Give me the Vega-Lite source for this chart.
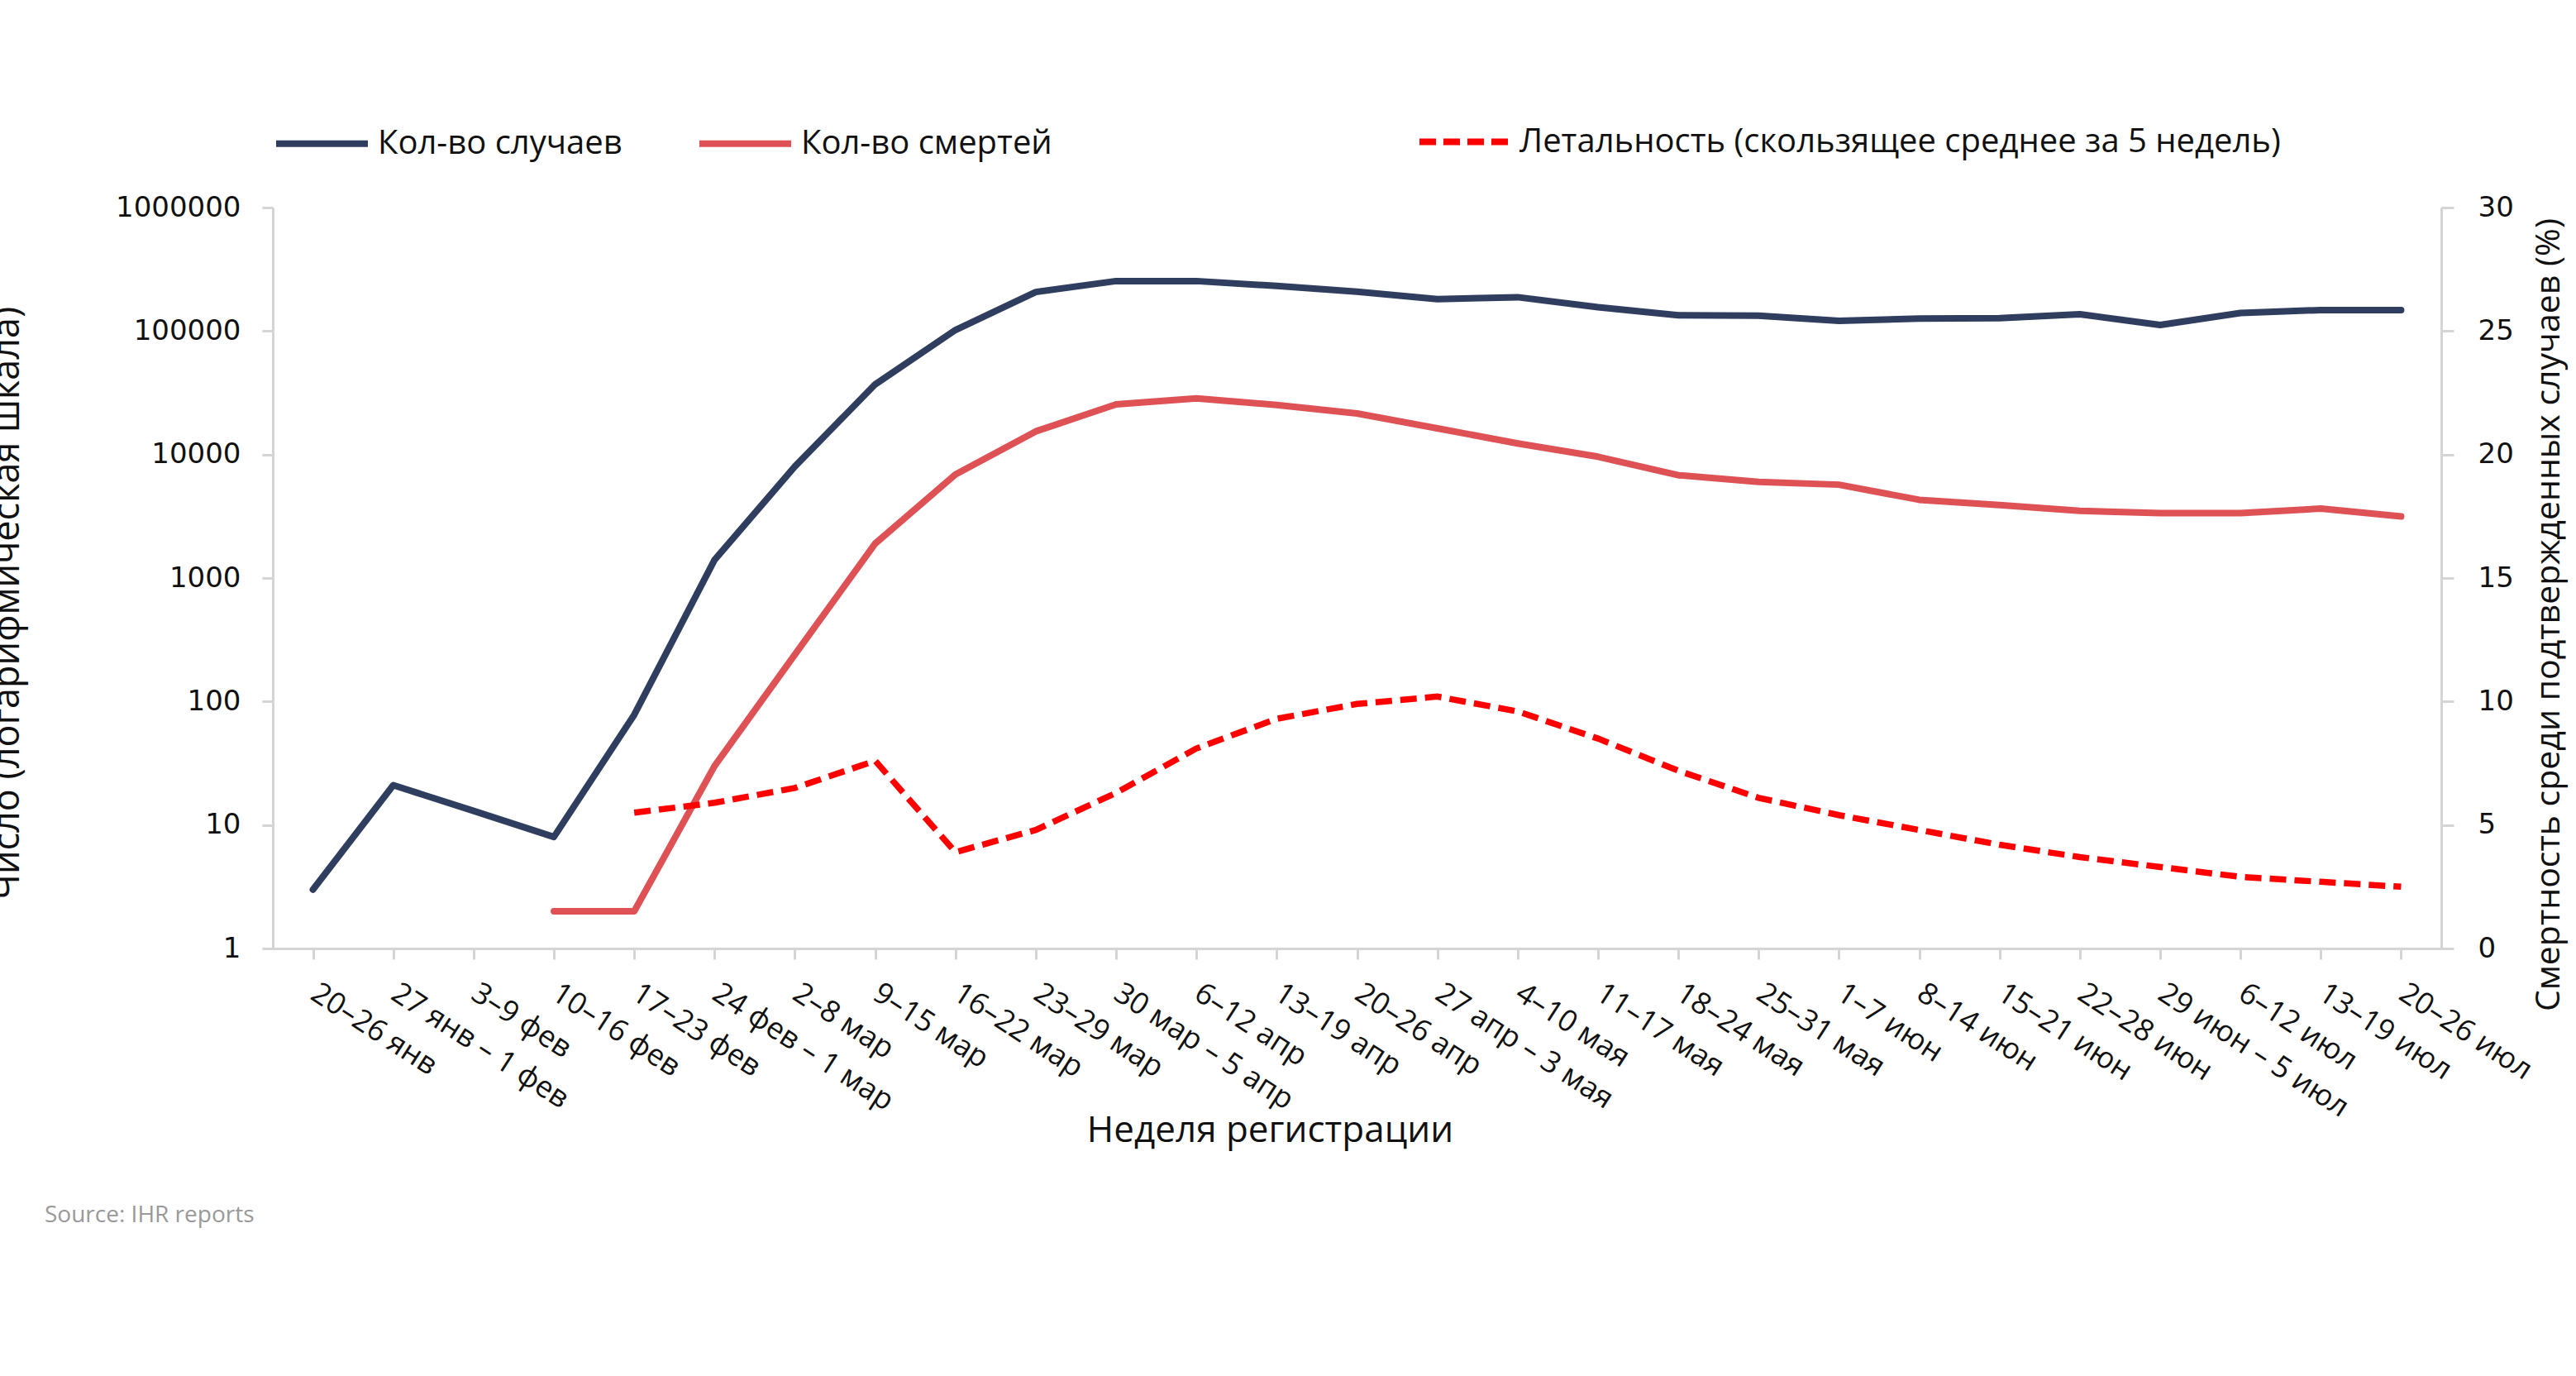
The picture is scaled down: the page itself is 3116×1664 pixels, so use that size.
{
  "$schema": "https://vega.github.io/schema/vega-lite/v6.json",
  "autosize": "none",
  "width": 2623,
  "height": 896,
  "padding": {"left": 330, "top": 251, "right": 163, "bottom": 517},
  "background": "white",
  "title": {
    "text": "Source: IHR reports",
    "orient": "bottom",
    "anchor": "start",
    "frame": "group",
    "font": "Open Sans",
    "fontSize": 28,
    "fontWeight": "normal",
    "color": "#999999",
    "baseline": "top",
    "dx": -276,
    "offset": 67
  },
  "datasets": {
    "d": [
      {"w": "20–26 янв", "s": "Кол-во случаев", "v": 3},
      {"w": "27 янв – 1 фев", "s": "Кол-во случаев", "v": 21},
      {"w": "3–9 фев", "s": "Кол-во случаев", "v": 13},
      {"w": "10–16 фев", "s": "Кол-во случаев", "v": 8},
      {"w": "17–23 фев", "s": "Кол-во случаев", "v": 78},
      {"w": "24 фев – 1 мар", "s": "Кол-во случаев", "v": 1400},
      {"w": "2–8 мар", "s": "Кол-во случаев", "v": 8000},
      {"w": "9–15 мар", "s": "Кол-во случаев", "v": 37000},
      {"w": "16–22 мар", "s": "Кол-во случаев", "v": 102000},
      {"w": "23–29 мар", "s": "Кол-во случаев", "v": 207000},
      {"w": "30 мар – 5 апр", "s": "Кол-во случаев", "v": 254000},
      {"w": "6–12 апр", "s": "Кол-во случаев", "v": 254000},
      {"w": "13–19 апр", "s": "Кол-во случаев", "v": 232000},
      {"w": "20–26 апр", "s": "Кол-во случаев", "v": 208000},
      {"w": "27 апр – 3 мая", "s": "Кол-во случаев", "v": 181000},
      {"w": "4–10 мая", "s": "Кол-во случаев", "v": 188000},
      {"w": "11–17 мая", "s": "Кол-во случаев", "v": 156000},
      {"w": "18–24 мая", "s": "Кол-во случаев", "v": 134000},
      {"w": "25–31 мая", "s": "Кол-во случаев", "v": 133000},
      {"w": "1–7 июн", "s": "Кол-во случаев", "v": 121000},
      {"w": "8–14 июн", "s": "Кол-во случаев", "v": 126000},
      {"w": "15–21 июн", "s": "Кол-во случаев", "v": 127000},
      {"w": "22–28 июн", "s": "Кол-во случаев", "v": 137000},
      {"w": "29 июн – 5 июл", "s": "Кол-во случаев", "v": 112000},
      {"w": "6–12 июл", "s": "Кол-во случаев", "v": 140000},
      {"w": "13–19 июл", "s": "Кол-во случаев", "v": 148000},
      {"w": "20–26 июл", "s": "Кол-во случаев", "v": 148000},
      {"w": "10–16 фев", "s": "Кол-во смертей", "v": 2},
      {"w": "17–23 фев", "s": "Кол-во смертей", "v": 2},
      {"w": "24 фев – 1 мар", "s": "Кол-во смертей", "v": 30},
      {"w": "2–8 мар", "s": "Кол-во смертей", "v": 240},
      {"w": "9–15 мар", "s": "Кол-во смертей", "v": 1900},
      {"w": "16–22 мар", "s": "Кол-во смертей", "v": 6900},
      {"w": "23–29 мар", "s": "Кол-во смертей", "v": 15400},
      {"w": "30 мар – 5 апр", "s": "Кол-во смертей", "v": 25500},
      {"w": "6–12 апр", "s": "Кол-во смертей", "v": 28500},
      {"w": "13–19 апр", "s": "Кол-во смертей", "v": 25200},
      {"w": "20–26 апр", "s": "Кол-во смертей", "v": 21500},
      {"w": "27 апр – 3 мая", "s": "Кол-во смертей", "v": 16300},
      {"w": "4–10 мая", "s": "Кол-во смертей", "v": 12300},
      {"w": "11–17 мая", "s": "Кол-во смертей", "v": 9600},
      {"w": "18–24 мая", "s": "Кол-во смертей", "v": 6800},
      {"w": "25–31 мая", "s": "Кол-во смертей", "v": 6000},
      {"w": "1–7 июн", "s": "Кол-во смертей", "v": 5700},
      {"w": "8–14 июн", "s": "Кол-во смертей", "v": 4300},
      {"w": "15–21 июн", "s": "Кол-во смертей", "v": 3900},
      {"w": "22–28 июн", "s": "Кол-во смертей", "v": 3500},
      {"w": "29 июн – 5 июл", "s": "Кол-во смертей", "v": 3350},
      {"w": "6–12 июл", "s": "Кол-во смертей", "v": 3350},
      {"w": "13–19 июл", "s": "Кол-во смертей", "v": 3650},
      {"w": "20–26 июл", "s": "Кол-во смертей", "v": 3150},
      {"w": "17–23 фев", "s": "Летальность (скользящее среднее за 5 недель)", "v": 5.5},
      {"w": "24 фев – 1 мар", "s": "Летальность (скользящее среднее за 5 недель)", "v": 5.9},
      {"w": "2–8 мар", "s": "Летальность (скользящее среднее за 5 недель)", "v": 6.5},
      {"w": "9–15 мар", "s": "Летальность (скользящее среднее за 5 недель)", "v": 7.6},
      {"w": "16–22 мар", "s": "Летальность (скользящее среднее за 5 недель)", "v": 3.9},
      {"w": "23–29 мар", "s": "Летальность (скользящее среднее за 5 недель)", "v": 4.8},
      {"w": "30 мар – 5 апр", "s": "Летальность (скользящее среднее за 5 недель)", "v": 6.3},
      {"w": "6–12 апр", "s": "Летальность (скользящее среднее за 5 недель)", "v": 8.1},
      {"w": "13–19 апр", "s": "Летальность (скользящее среднее за 5 недель)", "v": 9.3},
      {"w": "20–26 апр", "s": "Летальность (скользящее среднее за 5 недель)", "v": 9.9},
      {"w": "27 апр – 3 мая", "s": "Летальность (скользящее среднее за 5 недель)", "v": 10.2},
      {"w": "4–10 мая", "s": "Летальность (скользящее среднее за 5 недель)", "v": 9.6},
      {"w": "11–17 мая", "s": "Летальность (скользящее среднее за 5 недель)", "v": 8.5},
      {"w": "18–24 мая", "s": "Летальность (скользящее среднее за 5 недель)", "v": 7.2},
      {"w": "25–31 мая", "s": "Летальность (скользящее среднее за 5 недель)", "v": 6.1},
      {"w": "1–7 июн", "s": "Летальность (скользящее среднее за 5 недель)", "v": 5.4},
      {"w": "8–14 июн", "s": "Летальность (скользящее среднее за 5 недель)", "v": 4.8},
      {"w": "15–21 июн", "s": "Летальность (скользящее среднее за 5 недель)", "v": 4.2},
      {"w": "22–28 июн", "s": "Летальность (скользящее среднее за 5 недель)", "v": 3.7},
      {"w": "29 июн – 5 июл", "s": "Летальность (скользящее среднее за 5 недель)", "v": 3.3},
      {"w": "6–12 июл", "s": "Летальность (скользящее среднее за 5 недель)", "v": 2.9},
      {"w": "13–19 июл", "s": "Летальность (скользящее среднее за 5 недель)", "v": 2.7},
      {"w": "20–26 июл", "s": "Летальность (скользящее среднее за 5 недель)", "v": 2.5}
    ]
  },
  "data": {"name": "d"},
  "encoding": {
    "x": {
      "field": "w",
      "type": "nominal",
      "scale": {
        "domain": ["20–26 янв", "27 янв – 1 фев", "3–9 фев", "10–16 фев", "17–23 фев", "24 фев – 1 мар", "2–8 мар", "9–15 мар", "16–22 мар", "23–29 мар", "30 мар – 5 апр", "6–12 апр", "13–19 апр", "20–26 апр", "27 апр – 3 мая", "4–10 мая", "11–17 мая", "18–24 мая", "25–31 мая", "1–7 июн", "8–14 июн", "15–21 июн", "22–28 июн", "29 июн – 5 июл", "6–12 июл", "13–19 июл", "20–26 июл"],
        "paddingInner": 0,
        "paddingOuter": 0
      },
      "axis": {
        "title": "Неделя регистрации",
        "titleX": 1206,
        "titleY": 220,
        "titleAlign": "center",
        "titleBaseline": "middle",
        "titleFontSize": 44,
        "bandPosition": 0,
        "labelOffset": 10,
        "labelAngle": 33,
        "labelAlign": "left",
        "labelBaseline": "top",
        "labelPadding": 23,
        "labelOverlap": false,
        "labelLimit": 1000,
        "labelFont": "Open Sans",
        "labelFontSize": 36,
        "labelColor": "#111111",
        "tickSize": 13,
        "tickWidth": 3,
        "tickColor": "#D4D4D4",
        "domainColor": "#D4D4D4",
        "domainWidth": 3,
        "grid": false
      }
    }
  },
  "layer": [
    {
      "transform": [{"filter": "datum.s != 'Летальность (скользящее среднее за 5 недель)'"}],
      "mark": {"type": "line", "strokeWidth": 8, "strokeJoin": "round", "strokeCap": "round"},
      "encoding": {
        "y": {
          "field": "v",
          "type": "quantitative",
          "scale": {"type": "log", "domain": [1, 1000000]},
          "axis": {
            "title": "Число (логарифмическая шкала)",
            "titleFontSize": 45,
            "titleAngle": 270,
            "titleX": -308,
            "titleY": 478,
            "titleAlign": "center",
            "titleBaseline": "alphabetic",
            "values": [1, 10, 100, 1000, 10000, 100000, 1000000],
            "format": "d",
            "labelFont": "DejaVu Sans",
            "labelFontSize": 34,
            "labelColor": "#111111",
            "labelPadding": 26,
            "tickSize": 13,
            "tickWidth": 3,
            "tickColor": "#D4D4D4",
            "domainColor": "#D4D4D4",
            "domainWidth": 3,
            "grid": false
          }
        },
        "color": {
          "field": "s",
          "type": "nominal",
          "scale": {"domain": ["Кол-во случаев", "Кол-во смертей"], "range": ["#2F3E5E", "#DE5155"]},
          "legend": {
            "orient": "none",
            "direction": "horizontal",
            "legendX": 0,
            "legendY": -137,
            "title": null,
            "symbolType": "stroke",
            "symbolSize": 12321,
            "symbolStrokeWidth": 8,
            "labelOffset": 8,
            "columnPadding": 77,
            "padding": 0
          }
        }
      }
    },
    {
      "transform": [{"filter": "datum.s == 'Летальность (скользящее среднее за 5 недель)'"}],
      "mark": {"type": "line", "strokeWidth": 7.5, "strokeDash": [20, 10]},
      "encoding": {
        "y": {
          "field": "v",
          "type": "quantitative",
          "scale": {"domain": [0, 30], "nice": false, "zero": true},
          "axis": {
            "orient": "right",
            "title": "Смертность среди подтвержденных случаев (%)",
            "titleFontSize": 41,
            "titleAngle": 270,
            "titleX": 142,
            "titleY": 492,
            "titleAlign": "center",
            "titleBaseline": "alphabetic",
            "values": [0, 5, 10, 15, 20, 25, 30],
            "labelFont": "DejaVu Sans",
            "labelFontSize": 34,
            "labelColor": "#111111",
            "labelPadding": 29,
            "tickSize": 15,
            "tickWidth": 3,
            "tickColor": "#D4D4D4",
            "domainColor": "#D4D4D4",
            "domainWidth": 3,
            "grid": false
          }
        },
        "color": {
          "field": "s",
          "type": "nominal",
          "scale": {"range": ["#FF0000"]},
          "legend": {
            "orient": "none",
            "legendX": 1383,
            "legendY": -137,
            "title": null,
            "symbolType": "stroke",
            "symbolSize": 11449,
            "symbolStrokeWidth": 8,
            "symbolDash": [20, 9],
            "labelOffset": 10,
            "padding": 0
          }
        }
      }
    }
  ],
  "resolve": {"scale": {"y": "independent", "color": "independent"}},
  "config": {
    "view": {"stroke": null},
    "axis": {
      "titleFont": "Open Sans",
      "titleFontSize": 40,
      "titleFontWeight": "normal",
      "titleColor": "#111111"
    },
    "legend": {
      "labelFont": "Open Sans",
      "labelFontSize": 40,
      "labelColor": "#111111",
      "labelLimit": 2000
    }
  }
}
